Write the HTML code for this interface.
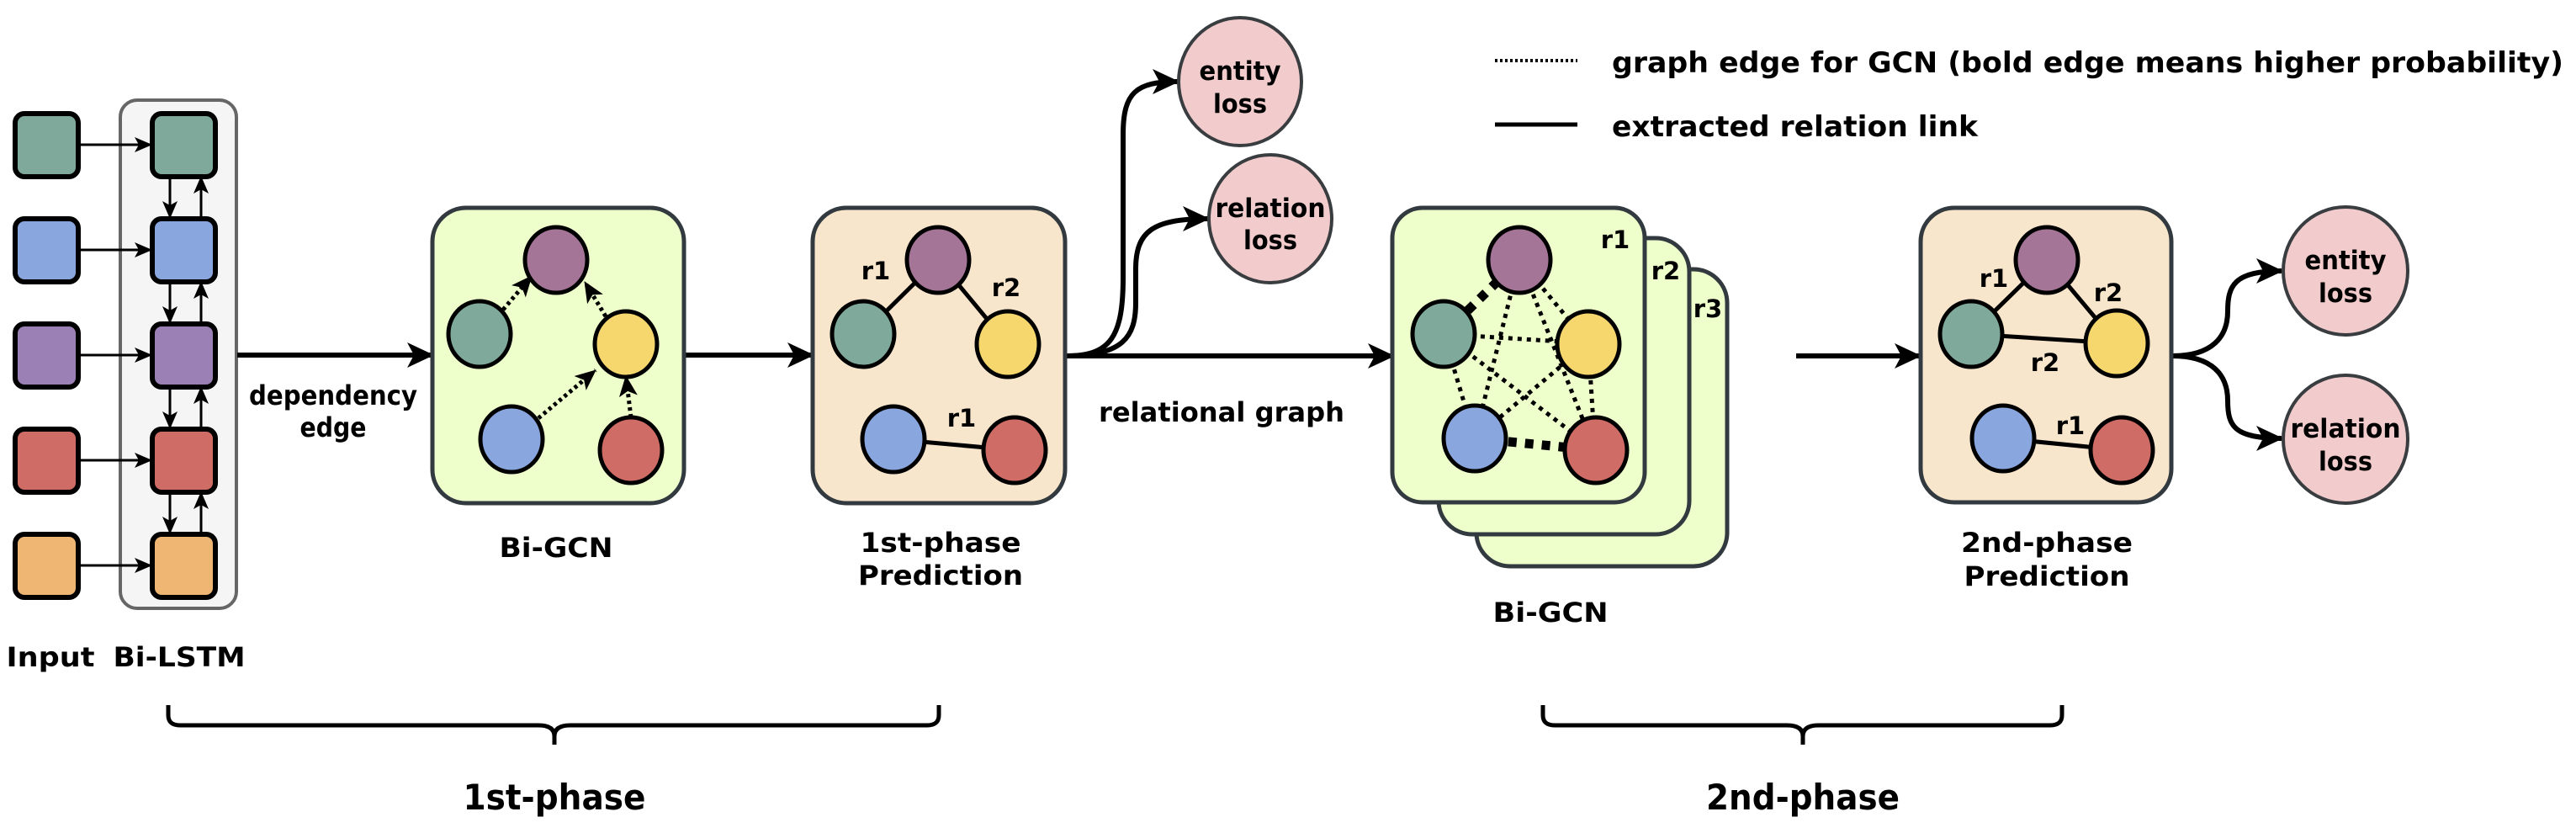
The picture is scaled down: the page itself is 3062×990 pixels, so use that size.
<!DOCTYPE html>
<html><head><meta charset="utf-8"><style>
html,body{margin:0;padding:0;background:#fff;}
svg{display:block;}
text{font-family:"DejaVu Sans","Liberation Sans",sans-serif;font-weight:bold;fill:#000;}
</style></head><body>
<svg width="3062" height="990" viewBox="0 0 3062 990" xmlns="http://www.w3.org/2000/svg">
<defs>
<marker id="big" markerUnits="userSpaceOnUse" markerWidth="34" markerHeight="34" refX="30" refY="17" orient="auto" viewBox="0 0 34 34">
<path d="M0,2 L32,17 L0,32 L8,17 z" fill="#000"/></marker>
<marker id="sm" markerUnits="userSpaceOnUse" markerWidth="22" markerHeight="20" refX="20" refY="10" orient="auto" viewBox="0 0 22 20">
<path d="M0,1 L21,10 L0,19 L5,10 z" fill="#000"/></marker>
<marker id="dt" markerUnits="userSpaceOnUse" markerWidth="26" markerHeight="24" refX="24" refY="12" orient="auto" viewBox="0 0 26 24">
<path d="M0,1 L25,12 L0,23 L6,12 z" fill="#000"/></marker>
</defs>

<rect x="143" y="119" width="138" height="604" rx="20" fill="#f5f5f5" stroke="#666" stroke-width="4"/>

<g stroke="#000" stroke-width="3" marker-end="url(#sm)">
<line x1="93" y1="172" x2="180" y2="172"/>
<line x1="93" y1="297" x2="180" y2="297"/>
<line x1="93" y1="422" x2="180" y2="422"/>
<line x1="93" y1="547" x2="180" y2="547"/>
<line x1="93" y1="672" x2="180" y2="672"/>
</g>
<g stroke="#000" stroke-width="3" marker-end="url(#sm)">
<line x1="202" y1="210" x2="202" y2="259"/>
<line x1="202" y1="335" x2="202" y2="384"/>
<line x1="202" y1="460" x2="202" y2="509"/>
<line x1="202" y1="585" x2="202" y2="634"/>
<line x1="239" y1="259" x2="239" y2="210"/>
<line x1="239" y1="384" x2="239" y2="335"/>
<line x1="239" y1="509" x2="239" y2="460"/>
<line x1="239" y1="634" x2="239" y2="585"/>
</g>

<g stroke="#000" stroke-width="6">
<rect x="18" y="135" width="75" height="75" rx="11" fill="#7fa99b"/>
<rect x="18" y="260" width="75" height="75" rx="11" fill="#8aa6de"/>
<rect x="18" y="385" width="75" height="75" rx="11" fill="#9b80b5"/>
<rect x="18" y="510" width="75" height="75" rx="11" fill="#d06c66"/>
<rect x="18" y="635" width="75" height="75" rx="11" fill="#eeb672"/>
<rect x="181" y="135" width="75" height="75" rx="11" fill="#7fa99b"/>
<rect x="181" y="260" width="75" height="75" rx="11" fill="#8aa6de"/>
<rect x="181" y="385" width="75" height="75" rx="11" fill="#9b80b5"/>
<rect x="181" y="510" width="75" height="75" rx="11" fill="#d06c66"/>
<rect x="181" y="635" width="75" height="75" rx="11" fill="#eeb672"/>
</g>

<text x="60" y="792" font-size="32" text-anchor="middle" textLength="105" lengthAdjust="spacingAndGlyphs">Input</text>
<text x="213" y="792" font-size="32" text-anchor="middle" textLength="157" lengthAdjust="spacingAndGlyphs">Bi-LSTM</text>

<g stroke="#000" stroke-width="6" fill="none" marker-end="url(#big)">
<line x1="282" y1="422" x2="514" y2="422"/>
<line x1="813" y1="422" x2="966" y2="422"/>
<line x1="1268" y1="423" x2="1656" y2="423"/>
<line x1="2135" y1="423" x2="2282" y2="423"/>
<path d="M1268,423 C1320,423 1335,400 1335,330 L1335,160 C1335,110 1350,97 1400,97"/>
<path d="M1268,423 C1335,423 1350,400 1350,360 L1350,320 C1350,275 1370,260 1436,260"/>
<path d="M2582,423 C2630,423 2648,400 2648,370 C2648,340 2655,322 2712,322"/>
<path d="M2582,423 C2630,423 2648,446 2648,476 C2648,506 2655,521 2712,521"/>
</g>

<text x="396" y="481" font-size="32" text-anchor="middle" textLength="200" lengthAdjust="spacingAndGlyphs">dependency</text>
<text x="396" y="519" font-size="32" text-anchor="middle" textLength="79" lengthAdjust="spacingAndGlyphs">edge</text>

<rect x="514" y="247" width="299" height="351" rx="40" fill="#eeffcc" stroke="#333a3f" stroke-width="5"/>
<g stroke="#000" stroke-width="5" stroke-dasharray="4 4" marker-end="url(#dt)" fill="none">
<line x1="598" y1="368" x2="632" y2="328"/>
<line x1="720" y1="376" x2="695" y2="335"/>
<line x1="640" y1="497" x2="708" y2="440"/>
<line x1="750" y1="496" x2="744" y2="447"/>
</g>
<g stroke="#000" stroke-width="5">
<ellipse cx="661" cy="309" rx="37" ry="39" fill="#a57598"/>
<ellipse cx="570" cy="397" rx="37" ry="39" fill="#7fa99b"/>
<ellipse cx="744" cy="409" rx="37" ry="39" fill="#f5d76e"/>
<ellipse cx="608" cy="522" rx="37" ry="39" fill="#8aa6de"/>
<ellipse cx="750" cy="535" rx="37" ry="39" fill="#d06c66"/>
</g>
<text x="661" y="662" font-size="32" text-anchor="middle" textLength="135" lengthAdjust="spacingAndGlyphs">Bi-GCN</text>

<rect x="966" y="247" width="300" height="351" rx="40" fill="#f8e6cc" stroke="#333a3f" stroke-width="5"/>
<g stroke="#000" stroke-width="5">
<line x1="1026" y1="397" x2="1115" y2="309"/>
<line x1="1115" y1="309" x2="1198" y2="409"/>
<line x1="1062" y1="522" x2="1206" y2="535"/>
<ellipse cx="1115" cy="309" rx="37" ry="39" fill="#a57598"/>
<ellipse cx="1026" cy="397" rx="37" ry="39" fill="#7fa99b"/>
<ellipse cx="1198" cy="409" rx="37" ry="39" fill="#f5d76e"/>
<ellipse cx="1062" cy="522" rx="37" ry="39" fill="#8aa6de"/>
<ellipse cx="1206" cy="535" rx="37" ry="39" fill="#d06c66"/>
</g>
<text x="1041" y="332" font-size="29" text-anchor="middle">r1</text>
<text x="1196" y="352" font-size="29" text-anchor="middle">r2</text>
<text x="1143" y="507" font-size="29" text-anchor="middle">r1</text>
<text x="1118" y="656" font-size="32" text-anchor="middle" textLength="191" lengthAdjust="spacingAndGlyphs">1st-phase</text>
<text x="1118" y="695" font-size="32" text-anchor="middle" textLength="196" lengthAdjust="spacingAndGlyphs">Prediction</text>

<g stroke="#3a3d40" stroke-width="4" fill="#f2cccc">
<ellipse cx="1474" cy="97" rx="73" ry="76"/>
<ellipse cx="1510" cy="260" rx="73" ry="76"/>
<ellipse cx="2788" cy="322" rx="74" ry="76"/>
<ellipse cx="2788" cy="522" rx="74" ry="76"/>
</g>
<g font-size="31" text-anchor="middle">
<text x="1474" y="95" textLength="97" lengthAdjust="spacingAndGlyphs">entity</text>
<text x="1474" y="134" textLength="64" lengthAdjust="spacingAndGlyphs">loss</text>
<text x="1510" y="258" textLength="131" lengthAdjust="spacingAndGlyphs">relation</text>
<text x="1510" y="296" textLength="64" lengthAdjust="spacingAndGlyphs">loss</text>
<text x="2788" y="320" textLength="97" lengthAdjust="spacingAndGlyphs">entity</text>
<text x="2788" y="359" textLength="64" lengthAdjust="spacingAndGlyphs">loss</text>
<text x="2788" y="520" textLength="131" lengthAdjust="spacingAndGlyphs">relation</text>
<text x="2788" y="559" textLength="64" lengthAdjust="spacingAndGlyphs">loss</text>
</g>

<text x="1452" y="501" font-size="32" text-anchor="middle" textLength="292" lengthAdjust="spacingAndGlyphs">relational graph</text>

<rect x="1755" y="320" width="298" height="353" rx="40" fill="#eeffcc" stroke="#333a3f" stroke-width="5"/>
<rect x="1710" y="283" width="298" height="352" rx="40" fill="#eeffcc" stroke="#333a3f" stroke-width="5"/>
<rect x="1655" y="247" width="300" height="350" rx="36" fill="#eeffcc" stroke="#333a3f" stroke-width="5"/>
<text x="2030" y="377" font-size="29" text-anchor="middle">r3</text>
<text x="1980" y="332" font-size="29" text-anchor="middle">r2</text>
<text x="1920" y="295" font-size="29" text-anchor="middle">r1</text>
<g stroke="#000" stroke-width="5" stroke-dasharray="5 6" fill="none">
<line x1="1806" y1="309" x2="1888" y2="408"/>
<line x1="1806" y1="309" x2="1753" y2="521"/>
<line x1="1806" y1="309" x2="1896" y2="535"/>
<line x1="1716" y1="397" x2="1888" y2="408"/>
<line x1="1716" y1="397" x2="1753" y2="521"/>
<line x1="1716" y1="397" x2="1896" y2="535"/>
<line x1="1888" y1="408" x2="1753" y2="521"/>
<line x1="1888" y1="408" x2="1896" y2="535"/>
</g>
<g stroke="#000" stroke-width="11" stroke-dasharray="10 10" fill="none">
<line x1="1716" y1="397" x2="1806" y2="309"/>
<line x1="1753" y1="521" x2="1896" y2="535"/>
</g>
<g stroke="#000" stroke-width="5">
<ellipse cx="1806" cy="309" rx="37" ry="39" fill="#a57598"/>
<ellipse cx="1716" cy="397" rx="37" ry="39" fill="#7fa99b"/>
<ellipse cx="1888" cy="409" rx="37" ry="39" fill="#f5d76e"/>
<ellipse cx="1753" cy="521" rx="37" ry="39" fill="#8aa6de"/>
<ellipse cx="1897" cy="535" rx="37" ry="39" fill="#d06c66"/>
</g>
<text x="1843" y="739" font-size="32" text-anchor="middle" textLength="137" lengthAdjust="spacingAndGlyphs">Bi-GCN</text>

<rect x="2283" y="247" width="298" height="350" rx="40" fill="#f8e6cc" stroke="#333a3f" stroke-width="5"/>
<g stroke="#000" stroke-width="5">
<line x1="2343" y1="397" x2="2433" y2="309"/>
<line x1="2433" y1="309" x2="2516" y2="408"/>
<line x1="2343" y1="397" x2="2516" y2="408"/>
<line x1="2381" y1="521" x2="2522" y2="535"/>
<ellipse cx="2433" cy="309" rx="37" ry="39" fill="#a57598"/>
<ellipse cx="2343" cy="397" rx="37" ry="39" fill="#7fa99b"/>
<ellipse cx="2516" cy="408" rx="37" ry="39" fill="#f5d76e"/>
<ellipse cx="2381" cy="521" rx="37" ry="39" fill="#8aa6de"/>
<ellipse cx="2522" cy="535" rx="37" ry="39" fill="#d06c66"/>
</g>
<text x="2370" y="341" font-size="29" text-anchor="middle">r1</text>
<text x="2506" y="358" font-size="29" text-anchor="middle">r2</text>
<text x="2431" y="441" font-size="29" text-anchor="middle">r2</text>
<text x="2461" y="516" font-size="29" text-anchor="middle">r1</text>
<text x="2433" y="656" font-size="32" text-anchor="middle" textLength="204" lengthAdjust="spacingAndGlyphs">2nd-phase</text>
<text x="2433" y="696" font-size="32" text-anchor="middle" textLength="197" lengthAdjust="spacingAndGlyphs">Prediction</text>

<line x1="1777" y1="72" x2="1875" y2="72" stroke="#000" stroke-width="4" stroke-dasharray="3 3"/>
<line x1="1777" y1="148" x2="1875" y2="148" stroke="#000" stroke-width="5"/>
<text x="1916" y="86" font-size="34" textLength="1131" lengthAdjust="spacingAndGlyphs">graph edge for GCN (bold edge means higher probability)</text>
<text x="1916" y="162" font-size="34" textLength="435" lengthAdjust="spacingAndGlyphs">extracted relation link</text>

<g stroke="#000" stroke-width="5" fill="none">
<path d="M200,838 L200,850 Q200,862 214,862 L640,862 Q659,862 659,875 L659,885 M659,875 Q659,862 678,862 L1102,862 Q1116,862 1116,850 L1116,838"/>
<path d="M1834,838 L1834,850 Q1834,862 1848,862 L2124,862 Q2143,862 2143,875 L2143,885 M2143,875 Q2143,862 2162,862 L2437,862 Q2451,862 2451,850 L2451,838"/>
</g>
<text x="659" y="962" font-size="42" text-anchor="middle" textLength="217" lengthAdjust="spacingAndGlyphs">1st-phase</text>
<text x="2143" y="962" font-size="42" text-anchor="middle" textLength="230" lengthAdjust="spacingAndGlyphs">2nd-phase</text>
</svg>
</body></html>
